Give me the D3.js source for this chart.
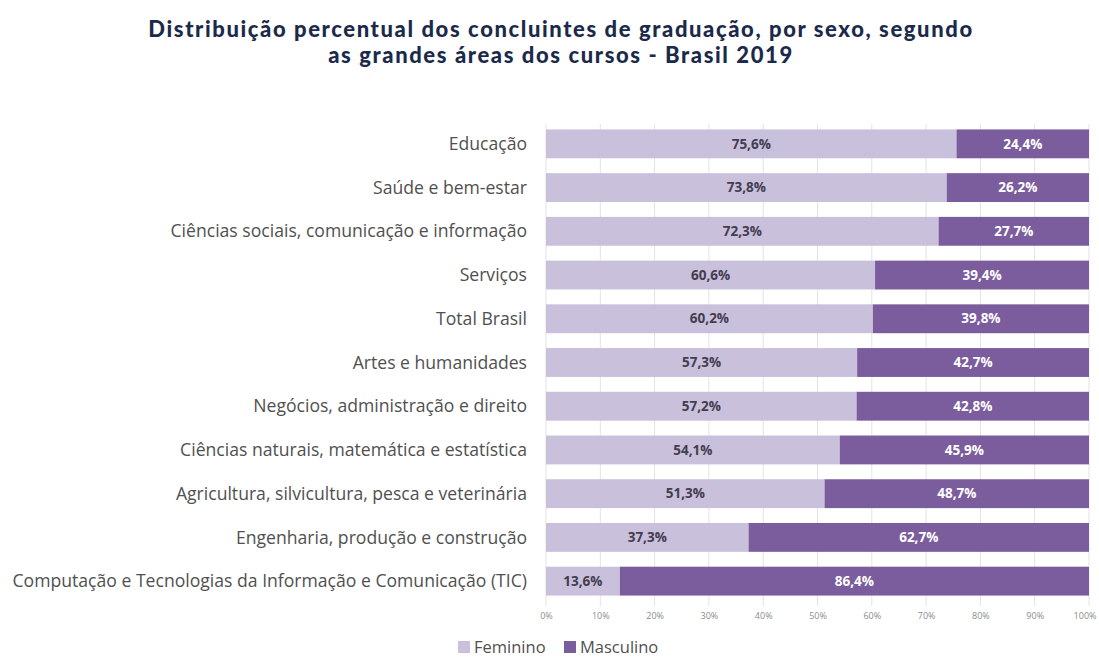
<!DOCTYPE html>
<html>
<head>
<meta charset="utf-8">
<script src="https://cdn.jsdelivr.net/npm/d3@7"></script>
<style>
body{margin:0;background:#fff;}
svg text{font-family:"Open Sans",Lato,sans-serif;}
</style>
</head>
<body>
<div id="chart"></div>
<script>
var categories=["Educação","Saúde e bem-estar","Ciências sociais, comunicação e informação","Serviços","Total Brasil","Artes e humanidades","Negócios, administração e direito","Ciências naturais, matemática e estatística","Agricultura, silvicultura, pesca e veterinária","Engenharia, produção e construção","Computação e Tecnologias da Informação e Comunicação (TIC)"];
var feminino=[75.6,73.8,72.3,60.6,60.2,57.3,57.2,54.1,51.3,37.3,13.6];
var masculino=[24.4,26.2,27.7,39.4,39.8,42.7,42.8,45.9,48.7,62.7,86.4];
var seriesNames=["Feminino","Masculino"];
var ticks=[0,10,20,30,40,50,60,70,80,90,100];

var width=1099,height=659;
var colors={Feminino:"#c9c0dc",Masculino:"#7b5d9e"};
var svg=d3.select("#chart").append("svg").attr("width",width).attr("height",height);

// titulo
var title=svg.append("g").attr("class","title");
title.append("text").attr("x",561).attr("y",37).attr("text-anchor","middle")
	.attr("font-size",22).attr("font-weight",900).attr("letter-spacing",1.6).attr("fill","#1b2a4a").style("font-family","Lato,sans-serif")
	.text("Distribuição percentual dos concluintes de graduação, por sexo, segundo");
title.append("text").attr("x",561).attr("y",63).attr("text-anchor","middle")
	.attr("font-size",22).attr("font-weight",900).attr("letter-spacing",1.6).attr("fill","#1b2a4a").style("font-family","Lato,sans-serif")
	.text("as grandes áreas dos cursos - Brasil 2019");

var x=d3.scaleLinear().domain([0,100]).range([546,1089]);
var y=d3.scaleBand().domain(categories).range([122,603]).paddingInner(0.34).paddingOuter(0.17);

// grade
svg.append("g").selectAll("line").data(ticks).enter().append("line")
	.attr("x1",function(d){return x(d);}).attr("x2",function(d){return x(d);})
	.attr("y1",124).attr("y2",606)
	.attr("stroke","#e3e3e3").attr("stroke-width",1);

// eixo x
var xAxis=svg.append("g").attr("transform","translate(0,606)")
	.call(d3.axisBottom(x).tickValues(ticks).tickFormat(function(d){return d+"%";}).tickSize(0).tickPadding(7));
xAxis.select(".domain").remove();
xAxis.selectAll("text").attr("font-size",9).attr("fill","#8c8c8c").style("font-family","'Open Sans',sans-serif");
// 100% nao pode sair da tela
xAxis.selectAll("text").filter(function(d){return d==100;}).attr("text-anchor","end").attr("dx",7);

// barras
var rows=categories.map(function(c,i){return {cat:c,f:feminino[i],m:masculino[i]};});
var g=svg.append("g");
g.selectAll("rect.fem").data(rows).enter().append("rect").attr("class","fem")
	.attr("x",x(0)).attr("y",function(d){return y(d.cat);})
	.attr("width",function(d){return x(d.f)-x(0);}).attr("height",y.bandwidth())
	.attr("fill",colors.Feminino);
g.selectAll("rect.masc").data(rows).enter().append("rect").attr("class","masc")
	.attr("x",function(d){return x(d.f);}).attr("y",function(d){return y(d.cat);})
	.attr("width",function(d){return x(100)-x(d.f);}).attr("height",y.bandwidth())
	.attr("fill",colors.Masculino);

function fmt(v){return v.toFixed(1).replace(".",",")+"%";}
g.selectAll("text.fem").data(rows).enter().append("text").attr("class","fem")
	.attr("x",function(d){return x(d.f/2);}).attr("y",function(d){return y(d.cat)+y.bandwidth()/2;})
	.attr("dy","0.35em").attr("text-anchor","middle").attr("font-size",13.5).attr("font-weight","bold")
	.attr("fill","#433d50").text(function(d){return fmt(d.f);});
g.selectAll("text.masc").data(rows).enter().append("text").attr("class","masc")
	.attr("x",function(d){return x(d.f+d.m/2);}).attr("y",function(d){return y(d.cat)+y.bandwidth()/2;})
	.attr("dy","0.35em").attr("text-anchor","middle").attr("font-size",13.5).attr("font-weight","bold")
	.attr("fill","#ffffff").text(function(d){return fmt(d.m);});

// rotulos categorias
svg.append("g").selectAll("text").data(categories).enter().append("text")
	.attr("x",527).attr("y",function(d){return y(d)+y.bandwidth()/2;})
	.attr("dy","0.35em").attr("text-anchor","end").attr("font-size",17.6).attr("fill","#505050")
	.text(function(d){return d;});

// legenda
var leg=svg.append("g").attr("transform","translate(458,647)");
var legX=[0,106];
seriesNames.forEach(function(s,i){
	leg.append("rect").attr("x",legX[i]).attr("y",-6).attr("width",12).attr("height",12).attr("fill",colors[s]);
	leg.append("text").attr("x",legX[i]+16).attr("y",0).attr("dy","0.35em").attr("font-size",16.5).attr("fill","#505050").text(s);
});
</script>
</body>
</html>
